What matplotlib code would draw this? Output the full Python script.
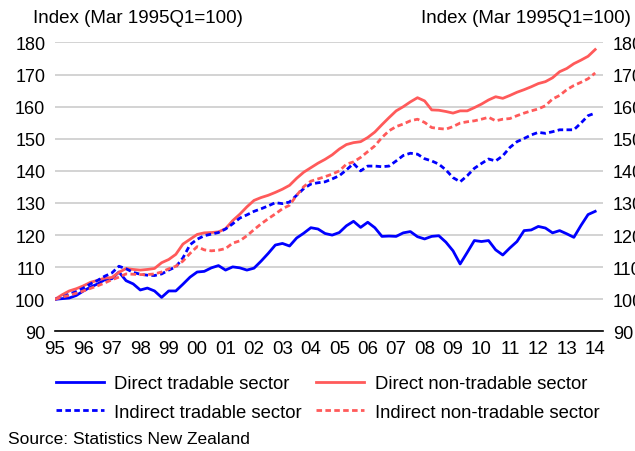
import matplotlib
matplotlib.use("Agg")
import matplotlib.pyplot as plt
import pandas as pd

plt.rcParams['font.family'] = ['Liberation Sans', 'DejaVu Sans']

quarters = pd.period_range('1995Q1', '2014Q1', freq='Q')

direct_tradable = [
    100.0, 100.2, 100.4, 101.2, 102.6, 103.8, 104.8, 106.1, 106.4, 108.5,
    105.8, 104.8, 102.9, 103.5, 102.6, 100.6, 102.6, 102.6, 104.7, 106.9,
    108.5, 108.7, 109.8, 110.5, 109.1, 110.1, 109.8, 109.1, 109.7, 111.9,
    114.3, 116.9, 117.4, 116.6, 119.1, 120.6, 122.3, 121.9, 120.5, 120.0,
    120.8, 122.9, 124.3, 122.4, 124.0, 122.3, 119.6, 119.7, 119.6, 120.7,
    121.1, 119.5, 118.8, 119.6, 119.8, 117.8, 115.1, 111.0, 114.6, 118.3,
    118.0, 118.3, 115.4, 113.8, 116.0, 118.0, 121.4, 121.6, 122.7, 122.2,
    120.7, 121.4, 120.4, 119.3, 123.0, 126.4, 127.4]

indirect_tradable = [
    100.0, 100.6, 101.6, 102.4, 103.5, 104.8, 105.9, 107.2, 108.2, 110.3,
    109.5, 108.4, 107.8, 107.5, 107.4, 107.9, 109.1, 110.1, 112.9, 117.0,
    118.7, 119.8, 120.3, 120.8, 121.9, 123.5, 125.3, 126.3, 127.4, 128.2,
    129.1, 130.1, 129.8, 130.3, 132.4, 134.5, 135.9, 136.3, 136.6, 137.5,
    138.5, 140.3, 142.3, 140.0, 141.5, 141.5, 141.3, 141.5, 143.1, 144.8,
    145.5, 145.2, 143.8, 143.1, 142.1, 140.3, 137.9, 136.6, 138.5, 140.8,
    142.3, 143.7, 143.1, 144.7, 147.3, 149.1, 150.1, 151.2, 152.0, 151.7,
    152.2, 152.8, 152.8, 152.8, 154.9, 157.2, 158.0]

direct_nontradable = [
    100.0, 101.4, 102.6, 103.3, 104.2, 105.3, 105.9, 106.6, 106.8, 108.4,
    109.6, 109.3, 109.1, 109.3, 109.6, 111.4, 112.4, 114.0, 117.2, 118.7,
    120.2, 120.7, 120.8, 121.0, 122.0, 124.5, 126.5, 128.8, 130.8, 131.7,
    132.4, 133.3, 134.3, 135.5, 137.7, 139.6, 141.0, 142.4, 143.6, 145.0,
    146.8, 148.2, 148.8, 149.1, 150.4, 152.1, 154.4, 156.6, 158.7, 160.0,
    161.5, 162.8, 161.8, 159.0, 158.9, 158.5, 158.0, 158.7, 158.7, 159.7,
    160.8, 162.1, 163.1, 162.6, 163.5, 164.5, 165.3, 166.2, 167.2, 167.8,
    169.0, 170.9, 171.9, 173.4, 174.5, 175.7, 177.8]

indirect_nontradable = [
    100.0, 100.7, 101.2, 101.9, 102.6, 103.4, 104.2, 105.1, 106.1, 106.9,
    107.9, 107.8, 107.7, 107.7, 107.9, 108.5, 109.5, 110.3, 111.9, 114.3,
    116.4, 115.4, 115.1, 115.3, 115.8, 117.5, 118.2, 119.8, 121.7, 123.5,
    125.1, 126.6, 128.2, 129.3, 132.4, 135.1, 136.8, 137.5, 138.2, 139.0,
    140.0, 142.1, 142.8, 144.2, 146.0, 147.8, 150.4, 152.5, 153.8, 154.6,
    155.6, 156.1, 155.1, 153.5, 153.2, 153.0, 153.8, 154.9, 155.3, 155.6,
    156.1, 156.7, 155.6, 156.1, 156.3, 157.2, 158.0, 158.7, 159.3, 160.3,
    162.4, 163.5, 165.3, 166.6, 167.6, 168.7, 170.5]

year_labels = [str(y)[2:] for y in range(1995, 2015)]

blue = '#0000FF'
red = '#FF5A5A'
dash = (0, (2.0, 1.2))

x = quarters.year + (quarters.quarter - 1) / 4

fig = plt.figure(figsize=(6.35, 4.52), dpi=100)
ax = fig.add_axes([0.0866, 0.2646, 0.8630, 0.6392])

ax.plot(x, direct_tradable, color=blue, lw=2.0, label='Direct tradable sector')
ax.plot(x, direct_nontradable, color=red, lw=2.0, label='Direct non-tradable sector')
ax.plot(x, indirect_tradable, color=blue, lw=2.0, ls=dash, label='Indirect tradable sector')
ax.plot(x, indirect_nontradable, color=red, lw=2.0, ls=dash, label='Indirect non-tradable sector')

ax.set_ylim(90, 180)
ax.set_xlim(1995, 1995 + 77.1 / 4)
ax.set_yticks(range(90, 181, 10))
ax.set_xticks(range(1995, 2015))
ax.set_xticklabels(year_labels)
ax.grid(axis='y', color='#CCCCCC', lw=1.2)
ax.set_axisbelow(True)
for s in ['top', 'right', 'left']:
    ax.spines[s].set_visible(False)
ax.spines['bottom'].set_color('black')
ax.spines['bottom'].set_linewidth(1.2)
ax.tick_params(axis='both', length=0, colors='black')
ax.tick_params(axis='y', pad=7, labelsize=13)
ax.tick_params(axis='x', pad=6, labelsize=13.5)

ax2 = ax.twinx()
ax2.set_ylim(90, 180)
ax2.set_yticks(range(90, 181, 10))
for s in ['top', 'right', 'left', 'bottom']:
    ax2.spines[s].set_visible(False)
ax2.tick_params(axis='y', length=0, labelsize=13, pad=7)

fig.text(0.052, 0.96, 'Index (Mar 1995Q1=100)', fontsize=13.5, va='center', ha='left')
fig.text(0.993, 0.96, 'Index (Mar 1995Q1=100)', fontsize=13.5, va='center', ha='right')

handles, labels = ax.get_legend_handles_labels()
order = [0, 2, 1, 3]
fig.legend([handles[i] for i in order], [labels[i] for i in order],
           ncol=2, loc='upper left', bbox_to_anchor=(0.088, 0.168),
           frameon=False, fontsize=13.3, handlelength=2.6, handletextpad=0.55,
           columnspacing=0.8, labelspacing=0.62, borderaxespad=0, borderpad=0)

fig.text(0.013, 0.027, 'Source: Statistics New Zealand', fontsize=12.5, va='center', ha='left')

fig.savefig('out.png', dpi=100)
